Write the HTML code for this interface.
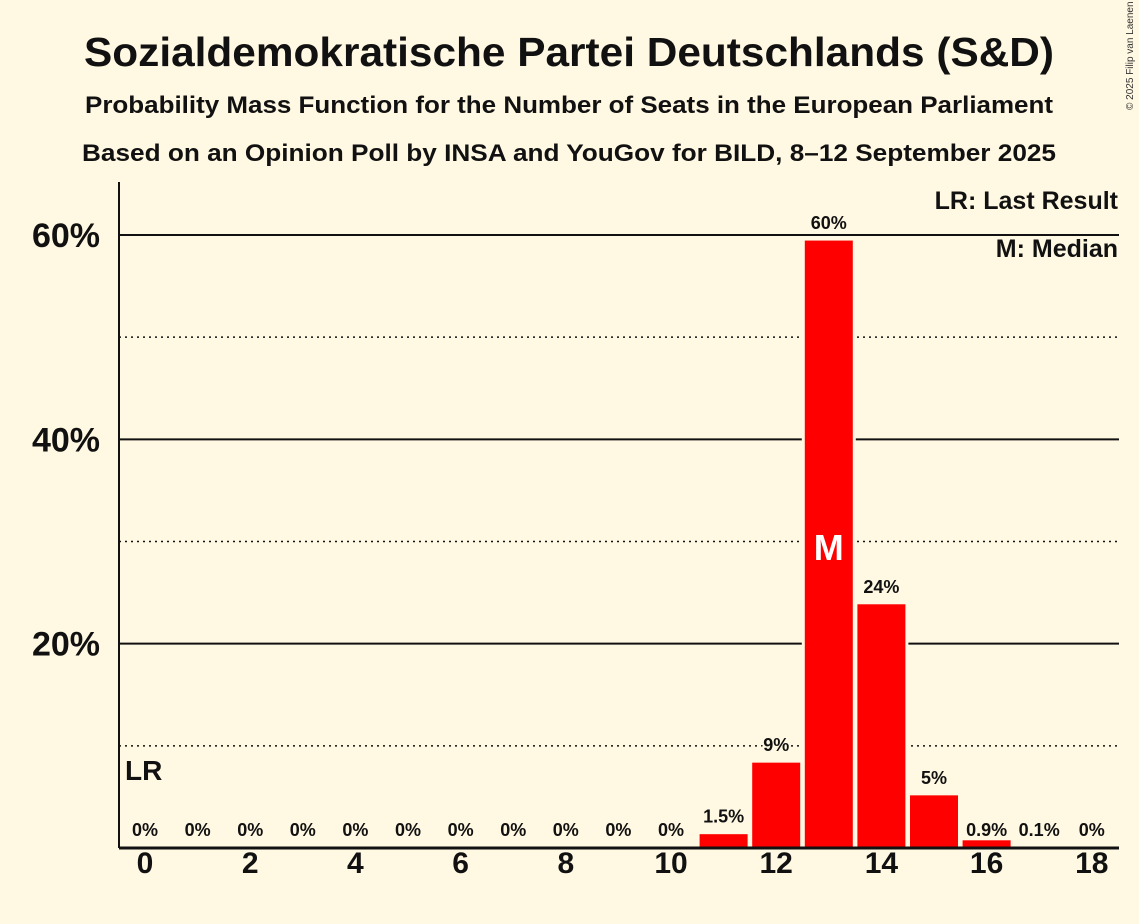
<!DOCTYPE html>
<html><head><meta charset="utf-8"><style>
body{margin:0;background:#fff8e2;}
svg{display:block;font-family:"Liberation Sans",sans-serif;font-weight:bold;}
</style></head><body>
<svg id="c" width="1139" height="924">
<rect width="1139" height="924" fill="#fff8e2"/>
<text x="569" y="66" text-anchor="middle" font-size="41" fill="#111" textLength="970" lengthAdjust="spacingAndGlyphs">Sozialdemokratische Partei Deutschlands (S&amp;D)</text>
<text x="569" y="113" text-anchor="middle" font-size="24" fill="#111" textLength="968" lengthAdjust="spacingAndGlyphs">Probability Mass Function for the Number of Seats in the European Parliament</text>
<text x="569" y="161" text-anchor="middle" font-size="24" fill="#111" textLength="974" lengthAdjust="spacingAndGlyphs">Based on an Opinion Poll by INSA and YouGov for BILD, 8–12 September 2025</text>
<text x="1133" y="110" font-size="10" font-weight="normal" fill="#333" transform="rotate(-90 1133 110)">© 2025 Filip van Laenen</text>
<g id="grid"></g><g id="bars"></g><g id="labels"></g>
<line x1="119" y1="182" x2="119" y2="848" stroke="#111" stroke-width="2"/>
<line x1="119" y1="848" x2="1119" y2="848" stroke="#111" stroke-width="3"/>
<text x="1118" y="209" text-anchor="end" font-size="25" fill="#111">LR: Last Result</text>
<text x="1118" y="257" text-anchor="end" font-size="25" fill="#111">M: Median</text>
</svg>
<script>
const seats=[0,1,2,3,4,5,6,7,8,9,10,11,12,13,14,15,16,17,18];
const probs=[0,0,0,0,0,0,0,0,0,0,0,1.5,8.5,59.6,24,5.3,0.9,0.1,0];
const labels=["0%","0%","0%","0%","0%","0%","0%","0%","0%","0%","0%","1.5%","9%","60%","24%","5%","0.9%","0.1%","0%"];
const yTicks=[10,20,30,40,50,60];
const xTicks=[0,2,4,6,8,10,12,14,16,18];
const medianSeat=13, lastResultSeat=0;
const NS="http://www.w3.org/2000/svg";
const xs=s=>145+s*52.6, ys=v=>848-v*10.217;
function mk(t,a,p){const e=document.createElementNS(NS,t);for(const k in a)e.setAttribute(k,a[k]);document.getElementById(p).appendChild(e);return e;}
yTicks.forEach(v=>{
 const major=v%20===0;
 const l=mk('line',{x1:119,x2:1119,y1:ys(v),y2:ys(v),stroke:'#111','stroke-width':major?2:1.5,'stroke-dasharray':major?'':'2,4'},'grid');
 
 
 if(major){const t=mk('text',{x:100,y:ys(v)+12,'text-anchor':'end','font-size':34,fill:'#111'},'grid');t.textContent=v+'%';
 
 }
});
xTicks.forEach(s=>{const t=mk('text',{x:xs(s),y:873,'text-anchor':'middle','font-size':30,fill:'#111'},'labels');t.textContent=s;
 
 });
seats.forEach((s,i)=>{
 const v=probs[i];
 if(v>0){const r=mk('rect',{x:xs(s)-25.5,y:ys(v),width:51,height:848-ys(v),fill:'#ff0000',stroke:'#fff8e2','stroke-width':3},'bars');
 
 }
 const ly=v>=1?ys(v)-10:836;
 const t=mk('text',{x:xs(s),y:ly,'text-anchor':'middle','font-size':18,fill:'#111',stroke:'#fff8e2','stroke-width':4,'paint-order':'stroke'},'labels');t.textContent=labels[i];
 
 
});
const m=mk('text',{x:xs(medianSeat),y:560,'text-anchor':'middle','font-size':36,fill:'#fff'},'labels');m.textContent='M';


const lr=mk('text',{x:xs(lastResultSeat)-20,y:780,'font-size':28,fill:'#111'},'labels');lr.textContent='LR';


</script>
</body></html>
